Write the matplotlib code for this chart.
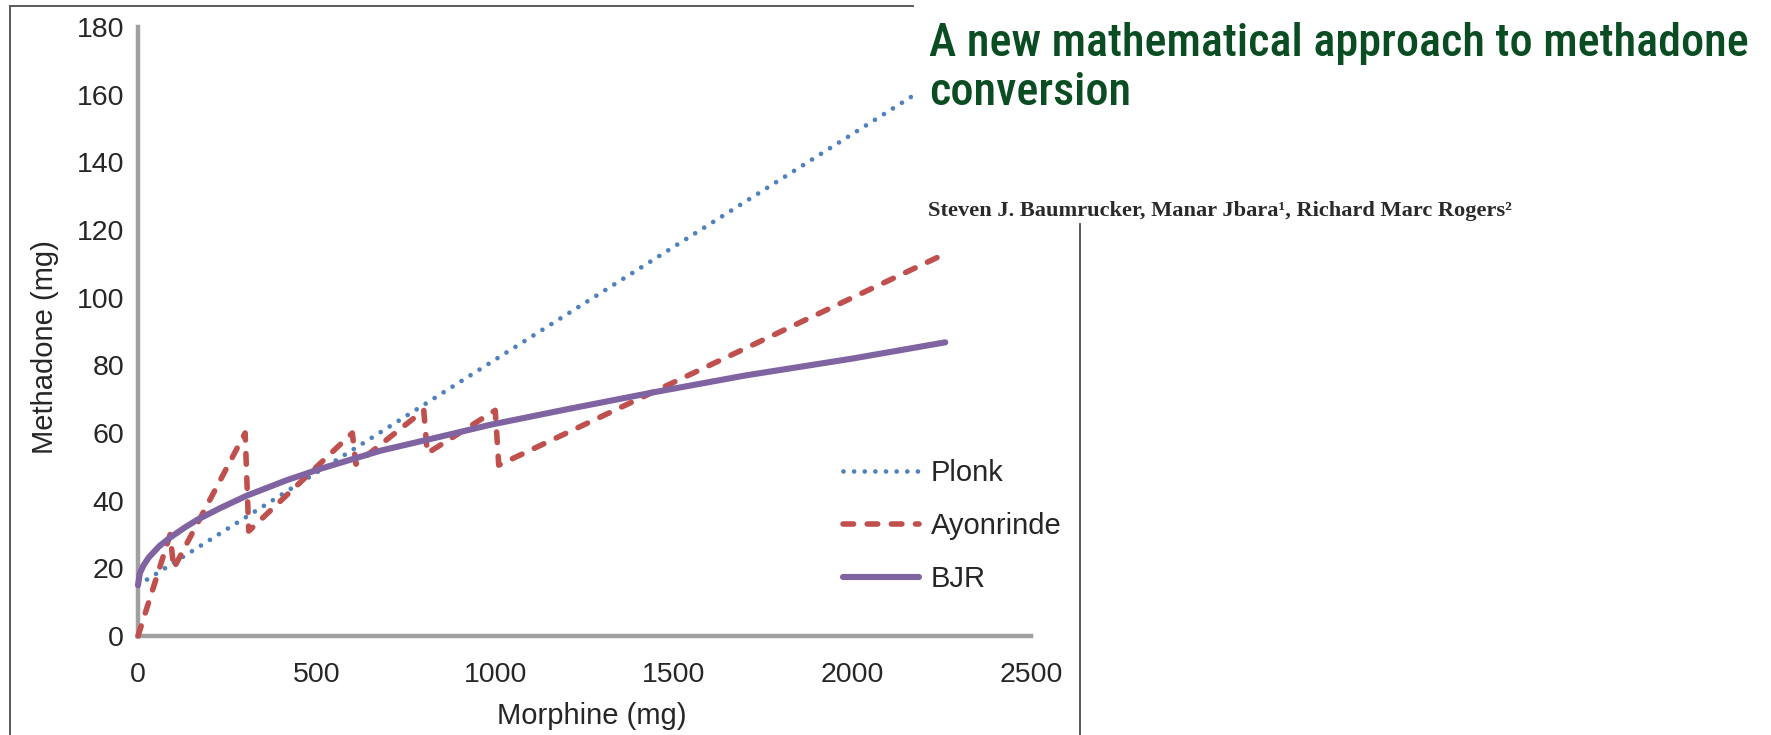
import matplotlib
matplotlib.use('Agg')
import matplotlib.pyplot as plt
from matplotlib import font_manager as fm
from matplotlib.patches import Rectangle
from matplotlib.lines import Line2D

# ---------------- data ----------------
x_ticks = [0, 500, 1000, 1500, 2000, 2500]
y_ticks = [0, 20, 40, 60, 80, 100, 120, 140, 160, 180]

plonk_x = [0, 680, 1117, 2170, 2260]
plonk_y = [15, 60.3, 89.5, 159.7, 165.5]

ayon_x = [0, 90, 100, 300, 310, 600, 610, 800, 810, 1000, 1010, 2260]
ayon_y = [0, 30, 20, 60, 31, 60, 50.8, 66.7, 54, 66.7, 50.5, 113]

bjr_x = [0, 5, 15, 30, 60, 90, 130, 165, 230, 305, 415, 510, 680, 850, 985,
         1200, 1442, 1700, 2000, 2260]
bjr_y = [15, 18.5, 20.8, 23.2, 26.6, 29.1, 32.0, 34.3, 37.8, 41.5, 46.0, 49.4,
         54.8, 59.0, 62.4, 67.0, 72.0, 77.0, 82.0, 86.8]

series_names = ['Plonk', 'Ayonrinde', 'BJR']
title_line1 = 'A new mathematical approach to methadone'
title_line2 = 'conversion'
authors = 'Steven J. Baumrucker, Manar Jbara\u00b9, Richard Marc Rogers\u00b2'

# ---------------- figure ----------------
plt.rcParams['font.family'] = ['Liberation Sans', 'DejaVu Sans']
W, H = 1771, 735
fig = plt.figure(figsize=(W / 100, H / 100), dpi=100)
fig.patch.set_facecolor('white')


def fx(px):
    return px / W


def fy(py):
    return 1 - py / H


ax = fig.add_axes([fx(138), fy(636), (1031 - 138) / W, (636 - 27) / H])
ax.set_xlim(0, 2500)
ax.set_ylim(0, 180)
ax.set_xticks(x_ticks)
ax.set_yticks(y_ticks)

ax.plot(plonk_x, plonk_y, color='#4F81BD', lw=3.4,
        linestyle=(0, (0.001, 2.25)), dash_capstyle='round',
        label=series_names[0], zorder=3, clip_on=False)
ax.plot(ayon_x, ayon_y, color='#C0504D', lw=4.0,
        linestyle=(0, (1.9, 2.45)), dash_capstyle='round',
        dash_joinstyle='round', label=series_names[1], zorder=3, clip_on=False)
ax.plot(bjr_x, bjr_y, color='#8064A2', lw=4.4, solid_capstyle='round',
        solid_joinstyle='round', label=series_names[2], zorder=3, clip_on=False)

for s in ['top', 'right']:
    ax.spines[s].set_visible(False)
for s in ['left', 'bottom']:
    ax.spines[s].set_color('#A0A0A0')
    ax.spines[s].set_linewidth(3.2)
ax.tick_params(length=0, labelsize=20.5, labelcolor='#262626')
ax.tick_params(axis='x', pad=19)
ax.tick_params(axis='y', pad=10)

ax.set_xlabel('Morphine (mg)', fontsize=21, color='#262626')
ax.set_ylabel('Methadone (mg)', fontsize=21, color='#262626')
ax.xaxis.set_label_coords((592 - 138) / 893, (636 - 716) / 609)
ax.xaxis.label.set_va('center')
ax.yaxis.set_label_coords((45 - 138) / 893, (636 - 347) / 609)
ax.yaxis.label.set_va('center')

leg = ax.legend(loc='upper left', bbox_to_anchor=(fx(843), fy(459)),
                bbox_transform=fig.transFigure, frameon=False, fontsize=21,
                handlelength=2.6, handletextpad=0.4, labelspacing=0.86,
                borderpad=0, borderaxespad=0)
for t in leg.get_texts():
    t.set_color('#262626')

# title block overlay (white) covering top right
fig.add_artist(Rectangle((fx(913), fy(222)), 1 - fx(913), 222 / H,
                         transform=fig.transFigure, facecolor='white',
                         edgecolor='none', zorder=5))

# frame lines
frame_col = '#5A5A5A'
for xs, ys in [([10, 10], [6, 735]), ([10, 913], [6, 6]), ([1080, 1080], [224, 735])]:
    fig.add_artist(Line2D([fx(v) for v in xs], [fy(v) for v in ys],
                          transform=fig.transFigure, color=frame_col, lw=1.4,
                          zorder=6))

names = {f.name for f in fm.fontManager.ttflist}
if 'Roboto Condensed' in names:
    tfont = dict(family='Roboto Condensed', weight=500)
elif 'Liberation Sans Narrow' in names:
    tfont = dict(family='Liberation Sans Narrow')
else:
    tfont = dict(family='DejaVu Sans', stretch='condensed')

title_col = '#0B4D22'
t1 = fig.text(fx(929), fy(56), title_line1, fontsize=36, color=title_col,
              va='baseline', ha='left', zorder=7, **tfont)
t2 = fig.text(fx(929), fy(105), title_line2, fontsize=36, color=title_col,
              va='baseline', ha='left', zorder=7, **tfont)
t3 = fig.text(fx(928), fy(216), authors, fontsize=14.5, color='#2A2A2A',
              family='Liberation Serif', weight='bold', va='baseline',
              ha='left', zorder=7)

fig.canvas.draw()
r = fig.canvas.get_renderer()
w1 = t1.get_window_extent(r).width
fs = 36 * 820 / w1
t1.set_fontsize(fs)
t2.set_fontsize(fs)
w3 = t3.get_window_extent(r).width
t3.set_fontsize(14.5 * 583 / w3)

fig.savefig('out.png', dpi=100)
